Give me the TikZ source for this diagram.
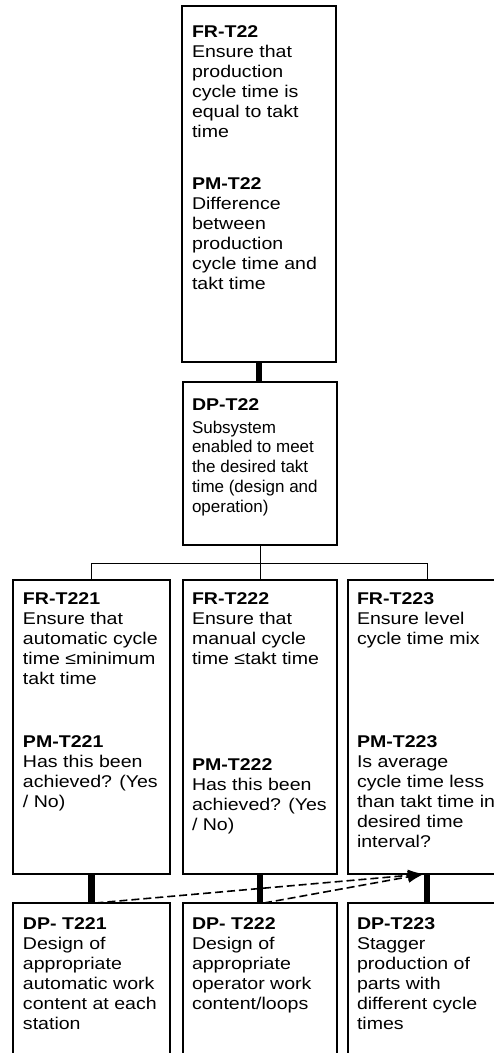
\documentclass[tikz,border=0pt]{standalone}
\usepackage{fontspec}
\setmainfont{Liberation Sans}[FakeStretch=1.15]
\newfontfamily\plainfont{Liberation Sans}
\usetikzlibrary{arrows.meta,calc}
\newcommand{\blk}[1]{\begin{tabular}[t]{@{}l@{}}#1\end{tabular}}
\begin{document}
\begin{tikzpicture}[x=1pt,y=-1pt,
  box/.style={draw, line width=1.6pt, anchor=north west, inner sep=0pt, outer sep=0pt},
  txt/.style={anchor=base west, inner sep=0pt, outer sep=0pt, font=\fontsize{17}{20}\selectfont},
  ptxt/.style={anchor=base west, inner sep=0pt, outer sep=0pt, font=\plainfont\fontsize{17}{19.8}\selectfont},
  bar/.style={line width=6.5pt},
  thinline/.style={line width=1pt},
  dasharrow/.style={line width=1.6pt, dash pattern=on 8pt off 4pt, -{Latex[length=16pt,width=12pt]}}
]
\useasboundingbox (0,0) rectangle (494,1053);
\clip (0,0) rectangle (494,1053);
\fill[white] (0,0) rectangle (494,1053);

% boxes
\node[box, minimum width=154pt, minimum height=356pt] (fr) at (182,6) {};
\node[box, minimum width=154pt, minimum height=163pt] (dp) at (183,382) {};
\node[box, minimum width=157pt, minimum height=294pt] (fr1) at (13,580) {};
\node[box, minimum width=154pt, minimum height=294pt] (fr2) at (183,580) {};
\node[box, minimum width=158pt, minimum height=294pt] (fr3) at (348,580) {};
\node[box, minimum width=157pt, minimum height=175pt] (dp1) at (13,903) {};
\node[box, minimum width=154pt, minimum height=175pt] (dp2) at (183,903) {};
\node[box, minimum width=158pt, minimum height=175pt] (dp3) at (348,903) {};

% texts
\node[txt] (tfr) at (192,37) {\blk{\textbf{FR-T22}\\Ensure that\\production\\cycle time is\\equal to takt\\time}};
\node[txt] (tpm) at (192,189) {\blk{\textbf{PM-T22}\\Difference\\between\\production\\cycle time and\\takt time}};
\node[txt] (tdph) at (192,410) {\blk{\textbf{DP-T22}}};
\node[ptxt] (tdp) at (192,433) {\blk{Subsystem\\enabled to meet\\the desired takt\\time (design and\\operation)}};

\node[txt] (tfr1) at (23,604) {\blk{\textbf{FR-T221}\\Ensure that\\automatic cycle\\time ≤minimum\\takt time}};
\node[txt] (tpm1) at (23,747) {\blk{\textbf{PM-T221}\\Has this been\\achieved? (Yes\\/ No)}};
\node[txt] (tfr2) at (192,604) {\blk{\textbf{FR-T222}\\Ensure that\\manual cycle\\time ≤takt time}};
\node[txt] (tpm2) at (192,770) {\blk{\textbf{PM-T222}\\Has this been\\achieved? (Yes\\/ No)}};
\node[txt] (tfr3) at (357,604) {\blk{\textbf{FR-T223}\\Ensure level\\cycle time mix}};
\node[txt] (tpm3) at (357,747) {\blk{\textbf{PM-T223}\\Is average\\cycle time less\\than takt time in\\desired time\\interval?}};

\node[txt] (tdp1) at (23,929) {\blk{\textbf{DP- T221}\\Design of\\appropriate\\automatic work\\content at each\\station}};
\node[txt] (tdp2) at (192,929) {\blk{\textbf{DP- T222}\\Design of\\appropriate\\operator work\\content/loops}};
\node[txt] (tdp3) at (357,929) {\blk{\textbf{DP-T223}\\Stagger\\production of\\parts with\\different cycle\\times}};

% connectors
\draw[bar] (fr.south) -- (fr.south |- dp.north);
\coordinate (hy) at (259,563);
\draw[thinline] (dp.south) -- (dp.south |- hy);
\draw[thinline] (fr1.north |- hy) -- (fr3.north |- hy);
\draw[thinline] (fr1.north |- hy) -- (fr1.north);
\draw[thinline] (fr2.north |- hy) -- (fr2.north);
\draw[thinline] (fr3.north |- hy) -- (fr3.north);
\draw[bar] (fr1.south) -- (dp1.north);
\draw[bar] (fr2.south) -- (dp2.north);
\draw[bar] (fr3.south) -- (dp3.north);

\coordinate (tip) at ($(fr3.south)+(-3,0)$);
\draw[dasharrow] ($(dp1.north)+(4,0)$) -- (tip);
\draw[dasharrow] ($(dp2.north)+(4,0)$) -- (tip);
\end{tikzpicture}
\end{document}
